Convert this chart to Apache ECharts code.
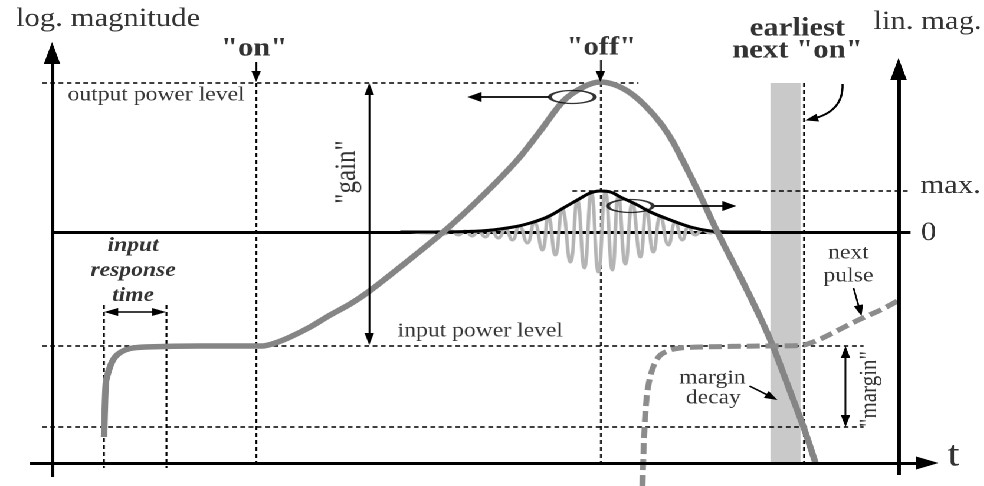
<!DOCTYPE html>
<html>
<head>
<meta charset="utf-8">
<script src="https://cdn.jsdelivr.net/npm/echarts@6/dist/echarts.min.js"></script>
<style>
  html, body { margin: 0; padding: 0; background: #fff; overflow: hidden; }
  #chart { height: 486px; transform-origin: 0 0; }
</style>
</head>
<body>
<div id="chart"></div>
<script>
// The figure is laid out in a frame 984 wide x 486 tall (y grows downward)
// and drawn with a horizontal stretch, as in the printed diagram.
const STRETCH = 1.18;
const WIDTH = 984, HEIGHT = 486;
const SERIF = 'Liberation Serif';

// Output power (logarithmic magnitude) versus time
const outputT     = [104, 105, 106, 108, 111, 115, 121, 130, 145, 200, 262, 275, 290, 310, 330, 350, 368, 400, 443, 480, 517, 540, 563, 583, 600, 615, 630, 645, 660, 672, 682, 700, 717, 740, 760, 772, 788, 803, 815];
const outputLevel = [437, 400, 381, 373, 364, 357, 352, 348.5, 347, 346, 346, 343, 337, 327, 315, 304, 292, 267, 232, 198, 160, 131, 101, 87, 82, 85, 93, 106, 123, 141, 160, 196, 232, 277, 318, 345, 387, 427, 463];

// Pulse envelope (linear magnitude)
const envT     = [400, 430, 480, 513, 530, 547, 563, 577, 590, 600, 610, 620, 637, 650, 670, 690, 710, 730, 760];
const envLevel = [232, 232, 231, 227, 223, 217, 208, 200, 193, 191, 192, 197, 205, 212, 220, 227, 231, 232, 232];

// Carrier oscillation under the envelope (successive extrema)
const carrierT     = [410, 431, 438, 444, 451, 458, 465, 472, 478, 485, 491, 498, 505, 512, 519, 527, 534, 542, 548, 555, 562, 570, 577, 584, 591, 598, 605, 612, 618, 625, 632, 640, 646, 653, 660, 668, 675, 682, 688, 695, 702, 710, 716, 724];
const carrierLevel = [232, 233, 231.5, 234, 231, 235, 231, 236, 231, 237, 230, 238, 229, 240, 226, 243, 222, 250, 216, 255, 209, 262, 200, 268, 193, 272, 192, 270, 196, 264, 203, 257, 209, 252, 216, 245, 222, 240, 227, 235, 230, 233, 231.5, 232];

// Build-up of the next pulse
const nextT     = [642, 643, 644, 646, 649, 654, 660, 670, 680, 700, 760, 800, 810, 820, 840, 860, 880, 897];
const nextLevel = [486, 455, 430, 400, 380, 364, 355, 350, 348, 347, 346, 345.5, 343, 339, 329, 319, 310, 301];

// Reference levels and instants
const outputPowerLevel = 83;
const inputPowerLevel = 346;
const marginFloor = 427;
const zeroLevel = 232;
const maxLevel = 191;
const tOn = 256, tOff = 600, tNextOn = 803;
const tResponseStart = 104, tResponseEnd = 166;
const earliestBand = [770, 800];

// Axes (start, tip)
const magnitudeAxes = [[[52, 477], [52, 42]], [[898, 475], [898, 58]]];
const timeAxis = [[[30, 463], [938, 463]]];
const zeroLine = [[[52, zeroLevel], [910, zeroLevel]]];

// Dotted guide lines
const guideLines = [
  [[42, outputPowerLevel], [638, outputPowerLevel]],
  [[42, inputPowerLevel], [863, inputPowerLevel]],
  [[42, marginFloor], [863, marginFloor]],
  [[572, maxLevel], [908, maxLevel]],
  [[tOn, outputPowerLevel], [tOn, 468]],
  [[tOff, outputPowerLevel], [tOff, 468]],
  [[tNextOn, outputPowerLevel], [tNextOn, 468]],
  [[tResponseStart, 305], [tResponseStart, 468]],
  [[tResponseEnd, 305], [tResponseEnd, 468]]
];

// Arrows (start, tip)
const pointerArrows = [
  [[tOn, 62], [tOn, outputPowerLevel - 1]],
  [[tOff, 60], [tOff, outputPowerLevel - 1]],
  [[853, 288], [861, 316]],
  [[749, 386], [777, 400]]
];
const spanArrows = [
  [[369, outputPowerLevel], [369, inputPowerLevel - 1]],
  [[tResponseStart, 312], [tResponseEnd, 312]],
  [[845, inputPowerLevel], [845, marginFloor]]
];
const scaleArrows = [
  [[549, 97], [467, 97]],
  [[654, 206], [736, 206]]
];
const nextOnArrow = [[[842, 84], [811, 119]]];
const scaleMarkers = [[572, 97], [630, 206]];

// Text annotations: [text, x, y]
const axisTitles = [['log. magnitude', 108, 19], ['lin. mag.', 927, 22], ['max.', 950, 186], ['0', 928, 233]];
const timeTitle = [['t', 953, 456]];
const eventTitles = [['"on"', 254, 49], ['"off"', 601, 48], ['earliest', 797, 29], ['next "on"', 797, 51]];
const levelNotes = [
  ['output power level', 156, 95], ['input power level', 480, 331],
  ['next', 848, 253], ['pulse', 848, 276],
  ['margin', 712, 378], ['decay', 713, 398]
];
const responseNote = [['input', 133, 246], ['response', 133, 271], ['time', 133, 296]];
const gainNote = [['"gain"', 347, 172]];
const marginNote = [['"margin"', 869, 389]];

const zip = (xs, ys) => xs.map((x, i) => [x, ys[i]]);

// Pull a segment end back by len screen pixels so the arrow head's tip lands on it.
function trimEnd(p, q, len) {
  const dx = (q[0] - p[0]) / STRETCH, dy = q[1] - p[1];
  const d = Math.hypot(dx, dy) || 1;
  return [q[0] - dx / d * len * STRETCH, q[1] - dy / d * len];
}

function arrowSeries(segs, head, width, both, extra) {
  return Object.assign({
    type: 'lines', coordinateSystem: 'cartesian2d', silent: true, z: 6,
    symbol: [both ? 'triangle' : 'none', 'triangle'],
    symbolSize: [head, head],
    lineStyle: { color: '#000', width: width, opacity: 1, curveness: 0 },
    data: segs.map(([p, q]) => ({
      coords: [both ? trimEnd(q, p, head[1] / 2) : p, trimEnd(p, q, head[1] / 2)]
    }))
  }, extra || {});
}

function plainLines(segs, style, z) {
  return {
    type: 'lines', coordinateSystem: 'cartesian2d', silent: true, z: z,
    symbol: ['none', 'none'],
    lineStyle: Object.assign({ opacity: 1, curveness: 0 }, style),
    data: segs.map(s => ({ coords: s }))
  };
}

function textSeries(items, label) {
  return {
    type: 'scatter', silent: true, z: 8, symbolSize: 1,
    itemStyle: { color: 'rgba(0,0,0,0)' },
    label: Object.assign({
      show: true, position: 'inside', formatter: '{b}', color: '#000',
      fontFamily: SERIF, align: 'center', verticalAlign: 'middle'
    }, label),
    data: items.map(([text, x, y]) => ({ name: text, value: [x, y] }))
  };
}

const dom = document.getElementById('chart');
dom.style.width = (WIDTH / STRETCH) + 'px';
dom.style.transform = 'scaleX(' + STRETCH + ')';

const chart = echarts.init(dom, null, { renderer: 'canvas', devicePixelRatio: 2, width: WIDTH / STRETCH, height: HEIGHT });

chart.setOption({
  animation: false,
  backgroundColor: '#fff',
  grid: { left: 0, right: 0, top: 0, bottom: 0 },
  xAxis: { type: 'value', min: 0, max: WIDTH, show: false },
  yAxis: { type: 'value', min: 0, max: HEIGHT, inverse: true, show: false },
  series: [
    // earliest next "on" window
    {
      type: 'line', z: 1, silent: true, showSymbol: false,
      lineStyle: { opacity: 0 },
      data: [[earliestBand[0], outputPowerLevel], [earliestBand[1], marginFloor]],
      markArea: {
        silent: true,
        itemStyle: { color: '#c9c9c9' },
        data: [[{ coord: [earliestBand[0], outputPowerLevel] }, { coord: [earliestBand[1], 463] }]]
      }
    },
    plainLines(guideLines, { color: '#000', width: 1.6, type: [4, 3] }, 2),
    {
      type: 'line', z: 3, silent: true, showSymbol: false, smooth: 0.5,
      lineStyle: { color: '#b4b4b4', width: 3 },
      data: zip(carrierT, carrierLevel)
    },
    plainLines(zeroLine, { color: '#000', width: 3 }, 3),
    {
      type: 'line', z: 3, silent: true, showSymbol: false, smooth: 0.4,
      lineStyle: { color: '#000', width: 3 },
      data: zip(envT, envLevel)
    },
    {
      type: 'line', z: 4, silent: true, showSymbol: false, smooth: 0.3,
      lineStyle: { color: '#858585', width: 5.5, cap: 'butt' },
      data: zip(outputT, outputLevel)
    },
    {
      type: 'line', z: 4, silent: true, showSymbol: false, smooth: 0.3,
      lineStyle: { color: '#8c8c8c', width: 5, type: [11, 5] },
      data: zip(nextT, nextLevel)
    },
    arrowSeries(magnitudeAxes, [14, 22], 3, false),
    arrowSeries(timeAxis, [13, 19], 3, false),
    arrowSeries(pointerArrows, [8, 11], 1.5, false),
    arrowSeries(spanArrows, [8, 12], 1.5, true),
    arrowSeries(scaleArrows, [10, 12], 1.8, false),
    {
      type: 'lines', coordinateSystem: 'cartesian2d', silent: true, z: 6,
      symbol: ['none', 'triangle'], symbolSize: [[8, 11], [8, 11]],
      lineStyle: { color: '#000', width: 1.8, opacity: 1, curveness: 0.4 },
      data: nextOnArrow.map(s => ({ coords: s }))
    },
    {
      type: 'scatter', z: 7, silent: true, symbol: 'circle', symbolSize: [38, 13],
      itemStyle: { color: 'rgba(0,0,0,0)', borderColor: '#000', borderWidth: 2 },
      data: scaleMarkers
    },
    textSeries(axisTitles, { fontSize: 26 }),
    textSeries(timeTitle, { fontSize: 36 }),
    textSeries(eventTitles, { fontSize: 26, fontWeight: 'bold' }),
    textSeries(levelNotes, { fontSize: 20 }),
    textSeries(responseNote, { fontSize: 20, fontWeight: 'bold', fontStyle: 'italic' }),
    textSeries(gainNote, { fontSize: 25, rotate: 90 }),
    textSeries(marginNote, { fontSize: 21, rotate: 90 })
  ]
});
</script>
</body>
</html>
